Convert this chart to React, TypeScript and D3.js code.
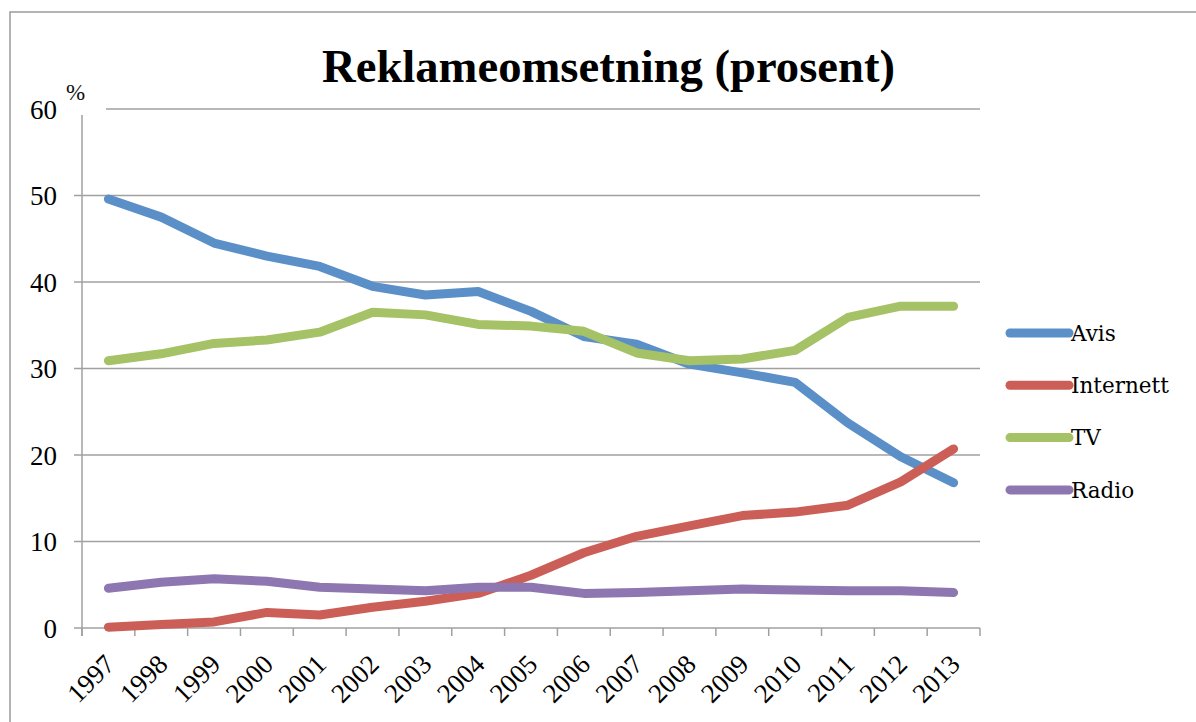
import React, { useEffect, useRef } from "react";
import * as d3 from "d3";

const years = [
  "1997", "1998", "1999", "2000", "2001", "2002", "2003", "2004", "2005",
  "2006", "2007", "2008", "2009", "2010", "2011", "2012", "2013",
];
const avis = [49.6, 47.5, 44.5, 43.0, 41.8, 39.5, 38.5, 38.9, 36.6, 33.7, 32.8, 30.5, 29.5, 28.4, 23.7, 19.8, 16.8];
const internett = [0.1, 0.4, 0.7, 1.8, 1.5, 2.4, 3.1, 4.0, 6.1, 8.7, 10.6, 11.8, 13.0, 13.4, 14.2, 16.9, 20.7];
const tv = [30.9, 31.7, 32.9, 33.3, 34.2, 36.5, 36.2, 35.1, 34.9, 34.3, 31.8, 30.9, 31.1, 32.1, 35.9, 37.2, 37.2];
const radio = [4.6, 5.3, 5.7, 5.4, 4.7, 4.5, 4.3, 4.7, 4.7, 4.0, 4.1, 4.3, 4.5, 4.4, 4.3, 4.3, 4.1];
const yTicks = [0, 10, 20, 30, 40, 50, 60];

const series = [
  { name: "Avis", values: avis, color: "#5B8FC8" },
  { name: "Internett", values: internett, color: "#CB5F57" },
  { name: "TV", values: tv, color: "#A6C266" },
  { name: "Radio", values: radio, color: "#8E76B0" },
];

const W = 1196;
const H = 722;
const margin = { left: 82, right: 216, top: 109, bottom: 94 };
const numFont = "'Liberation Serif', serif";
const legFont = "'DejaVu Serif', serif";

const App = () => {
  const svgRef = useRef(null);

  useEffect(() => {
    const svg = d3.select(svgRef.current);
    svg.selectAll("*").remove();

    const x = d3
      .scaleBand()
      .domain(years)
      .range([margin.left, W - margin.right]);
    const y = d3
      .scaleLinear()
      .domain([0, 60])
      .range([H - margin.bottom, margin.top]);

    svg.append("rect").attr("width", W).attr("height", H).attr("fill", "#fff");

    // outer frame (runs off right and bottom)
    svg
      .append("rect")
      .attr("x", 10)
      .attr("y", 12)
      .attr("width", W + 20)
      .attr("height", H + 20)
      .attr("fill", "none")
      .attr("stroke", "#9a9a9a")
      .attr("stroke-width", 1.5);

    // gridlines
    svg
      .append("g")
      .selectAll("line")
      .data(yTicks)
      .enter()
      .append("line")
      .attr("x1", margin.left - 8)
      .attr("x2", W - margin.right)
      .attr("y1", (d) => y(d))
      .attr("y2", (d) => y(d))
      .attr("stroke", "#a0a0a0")
      .attr("stroke-width", 1.5);

    // y axis line
    svg
      .append("line")
      .attr("x1", margin.left)
      .attr("x2", margin.left)
      .attr("y1", y(60))
      .attr("y2", y(0) + 8)
      .attr("stroke", "#a0a0a0")
      .attr("stroke-width", 1.5);

    // x ticks at band edges
    const edges = years.map((d) => x(d)).concat([W - margin.right]);
    svg
      .append("g")
      .selectAll("line")
      .data(edges)
      .enter()
      .append("line")
      .attr("x1", (d) => d)
      .attr("x2", (d) => d)
      .attr("y1", y(0))
      .attr("y2", y(0) + 8)
      .attr("stroke", "#a0a0a0")
      .attr("stroke-width", 1.5);

    // the % box hides a corner of the grid
    svg
      .append("rect")
      .attr("x", 62)
      .attr("y", 78)
      .attr("width", 44)
      .attr("height", 37)
      .attr("fill", "#fff");
    svg
      .append("text")
      .attr("x", 66)
      .attr("y", 100)
      .attr("font-family", numFont)
      .attr("font-size", 23)
      .attr("fill", "#111")
      .text("%");

    // y tick labels
    svg
      .append("g")
      .selectAll("text")
      .data(yTicks)
      .enter()
      .append("text")
      .attr("x", 57)
      .attr("y", (d) => y(d))
      .attr("dy", "0.36em")
      .attr("text-anchor", "end")
      .attr("font-family", numFont)
      .attr("font-size", 27)
      .attr("fill", "#000")
      .text((d) => d);

    // x tick labels
    svg
      .append("g")
      .selectAll("text")
      .data(years)
      .enter()
      .append("text")
      .attr(
        "transform",
        (d) => `translate(${x(d) + x.bandwidth() / 2 + 8},${y(0) + 38}) rotate(-45)`
      )
      .attr("text-anchor", "end")
      .attr("font-family", numFont)
      .attr("font-size", 27)
      .attr("fill", "#000")
      .text((d) => d);

    const line = d3
      .line<number>()
      .x((d, i) => x(years[i]) + x.bandwidth() / 2)
      .y((d) => y(d));

    svg
      .append("g")
      .selectAll("path")
      .data(series)
      .enter()
      .append("path")
      .attr("d", (s) => line(s.values))
      .attr("fill", "none")
      .attr("stroke", (s) => s.color)
      .attr("stroke-width", 9)
      .attr("stroke-linecap", "round")
      .attr("stroke-linejoin", "round");

    // legend
    const leg = svg
      .append("g")
      .selectAll("g")
      .data(series)
      .enter()
      .append("g")
      .attr("transform", (d, i) => `translate(1010,${333 + i * 52.3})`);
    leg
      .append("line")
      .attr("x1", 0)
      .attr("x2", 59)
      .attr("stroke", (s) => s.color)
      .attr("stroke-width", 9)
      .attr("stroke-linecap", "round");
    leg
      .append("text")
      .attr("x", 61)
      .attr("dy", "0.36em")
      .attr("font-family", legFont)
      .attr("font-size", 21.5)
      .attr("fill", "#000")
      .text((s) => s.name);

    // title
    svg
      .append("text")
      .attr("x", 322)
      .attr("y", 82)
      .attr("font-family", numFont)
      .attr("font-weight", "bold")
      .attr("font-size", 46)
      .attr("textLength", 573)
      .attr("lengthAdjust", "spacingAndGlyphs")
      .attr("fill", "#000")
      .text("Reklameomsetning (prosent)");
  }, []);

  return (
    <svg
      ref={svgRef}
      width={W}
      height={H}
      style={{ position: "absolute", left: 0, top: 0 }}
    />
  );
};

export default App;
